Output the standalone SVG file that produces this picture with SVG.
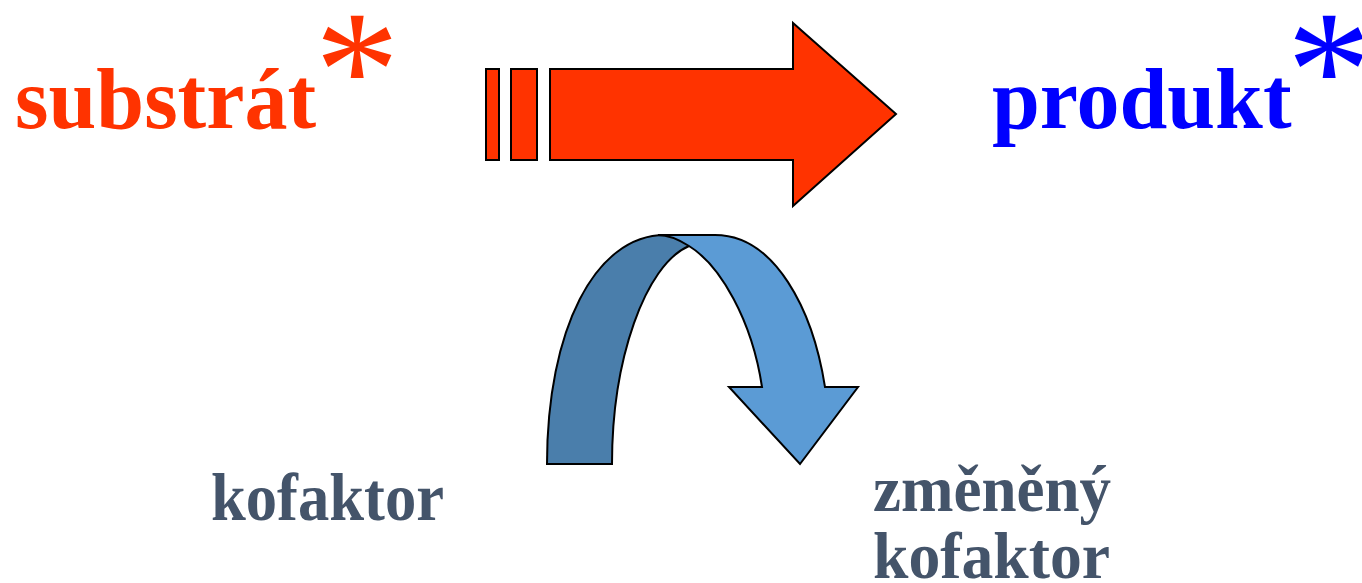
<svg xmlns="http://www.w3.org/2000/svg" width="1362" height="583" viewBox="0 0 1362 583">
<style>
.t{font-family:"Liberation Serif","Times New Roman",serif;font-weight:bold}
.ast{font-family:"Liberation Serif","Times New Roman",serif;font-weight:normal}
.red{fill:#FF3300}
.blue{fill:#0000FF}
.grey{fill:#44546A}
.ol{stroke:#000;stroke-width:2;stroke-linejoin:miter}
</style>
<rect width="1362" height="583" fill="#fff"/>
<g id="substrat">
<text class="t red" x="15" y="128" font-size="86">substrát</text>
<text class="ast red" x="357" y="127" font-size="170" text-anchor="middle">*</text>
</g>
<g id="produkt">
<text class="t blue" x="992" y="128" font-size="86">produkt</text>
<text class="ast blue" x="1329" y="127" font-size="170" text-anchor="middle">*</text>
</g>
<g id="reaction-arrow">
<rect class="red ol" x="486" y="69" width="13" height="91"/>
<rect class="red ol" x="511" y="69" width="26" height="91"/>
<path class="red ol" d="M550,69 L793,69 L793,23 L896,114 L793,206 L793,160 L550,160 Z"/>
</g>
<g id="cofactor-arrow">
<path class="ol" fill="#4A7EAB" d="M547,464 C547,330 595,235 665,235 L700,235 L689,246 C645,265 612,360 612,464 Z"/>
<path class="ol" fill="#5B9BD5" d="M658,235 L715,235 C775,235 813,310 825,387 L858,387 L800,464 L729,387 L762,387 C752,320 720,265 689,246 C678,239 668,235 658,235 Z"/>
</g>
<g id="kofaktor">
<text class="t grey" x="211" y="520" font-size="68" textLength="233" lengthAdjust="spacingAndGlyphs">kofaktor</text>
</g>
<g id="zmeneny-kofaktor">
<text class="t grey" x="873" y="511" font-size="66" textLength="238" lengthAdjust="spacingAndGlyphs">změněný</text>
<text class="t grey" x="873" y="578" font-size="66" textLength="237" lengthAdjust="spacingAndGlyphs">kofaktor</text>
</g>
</svg>
